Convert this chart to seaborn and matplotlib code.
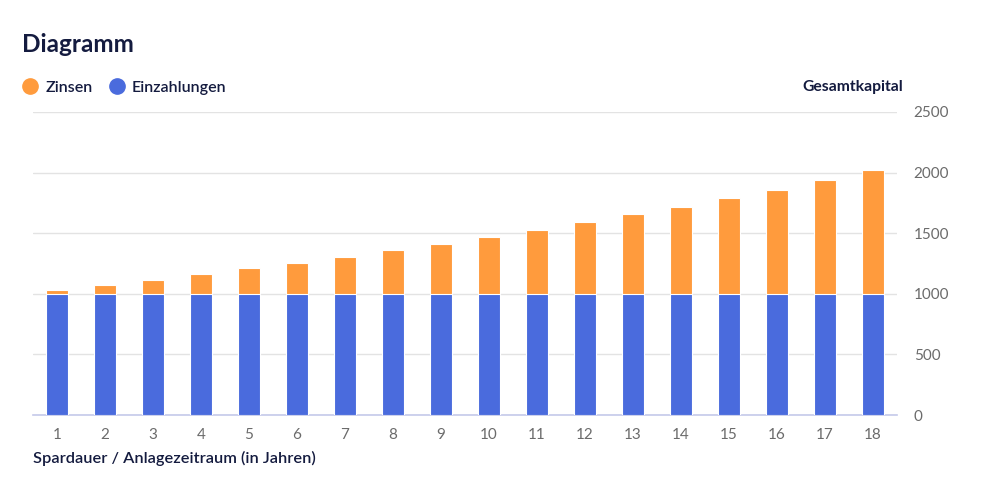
import numpy as np
import pandas as pd
import matplotlib
matplotlib.use("Agg")
import matplotlib.pyplot as plt
import seaborn as sns
from matplotlib.lines import Line2D

# values
jahre = list(range(1, 19))
einzahlungen = [1000] * 18
gesamtkapital = [1030, 1070, 1115, 1160, 1210, 1255, 1305, 1360, 1410,
                 1470, 1530, 1590, 1655, 1720, 1790, 1860, 1940, 2020]
zinsen = [g - e for g, e in zip(gesamtkapital, einzahlungen)]

ORANGE = "#FF9B3D"
BLUE = "#4A6BDD"
NAVY = "#141B3F"
GREY = "#6B6B6B"

sns.set_theme(style="white")
plt.rcParams['font.family'] = ['Lato', 'DejaVu Sans']

df = pd.DataFrame({"Jahr": jahre, "Einzahlungen": einzahlungen,
                   "Zinsen": zinsen, "Gesamt": gesamtkapital})

fig = plt.figure(figsize=(10, 4.93), dpi=100)
ax = fig.add_axes([0.033, 0.158, 0.864, 0.615])

# total (orange) first, deposits (blue) on top of it
sns.barplot(data=df, x="Jahr", y="Gesamt", color=ORANGE, width=0.46,
            saturation=1, edgecolor="white", linewidth=0.8, ax=ax, zorder=3)
sns.barplot(data=df, x="Jahr", y="Einzahlungen", color=BLUE, width=0.46,
            saturation=1, edgecolor="white", linewidth=0.8, ax=ax, zorder=4)

ax.set_ylim(0, 2500)
ax.set_xlim(-0.5, 17.5)
ax.set_yticks([0, 500, 1000, 1500, 2000, 2500])
ax.yaxis.tick_right()
ax.grid(axis="y", color="#E3E3E3", linewidth=1, zorder=0)
ax.set_axisbelow(True)
for s in ["top", "left", "right"]:
    ax.spines[s].set_visible(False)
ax.spines["bottom"].set_color("#C5C9EA")
ax.spines["bottom"].set_linewidth(1.2)
ax.tick_params(axis="y", length=0, pad=12, labelsize=11, labelcolor=GREY)
ax.tick_params(axis="x", length=0, pad=9, labelsize=11, labelcolor=GREY)
ax.set_xlabel("")
ax.set_ylabel("")

fig.text(0.022, 0.909, "Diagramm", fontsize=17.5, fontweight="bold",
         color=NAVY, va="center")
fig.text(0.903, 0.824, "Gesamtkapital", fontsize=11.3, fontweight="bold",
         color=NAVY, ha="right", va="center")
fig.text(0.033, 0.071, "Spardauer / Anlagezeitraum (in Jahren)", fontsize=11.8,
         fontweight="semibold", color=NAVY, va="center")

handles = [Line2D([], [], marker="o", linestyle="", markersize=11,
                  markerfacecolor=ORANGE, markeredgecolor=ORANGE, label="Zinsen"),
           Line2D([], [], marker="o", linestyle="", markersize=11,
                  markerfacecolor=BLUE, markeredgecolor=BLUE, label="Einzahlungen")]
leg = fig.legend(handles=handles, loc="center left", bbox_to_anchor=(0.0225, 0.822),
                 ncol=2, frameon=False, handlelength=1.0, handletextpad=0.42,
                 columnspacing=1.05, borderpad=0, borderaxespad=0,
                 prop={"size": 11.5, "weight": "semibold"})
for t in leg.get_texts():
    t.set_color(NAVY)

fig.savefig("out.png", dpi=100, facecolor="white")
